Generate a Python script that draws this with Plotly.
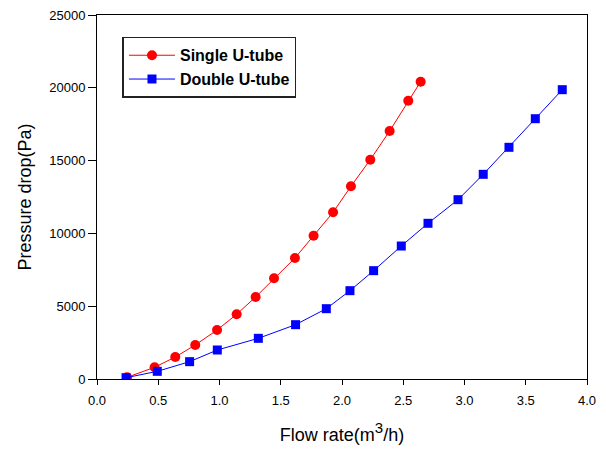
import plotly.graph_objects as go

single_x = [0.245, 0.47, 0.639, 0.802, 0.98, 1.14, 1.295, 1.445, 1.616, 1.768, 1.927, 2.073, 2.231, 2.389, 2.541, 2.642]
single_y = [117, 803, 1511, 2335, 3365, 4442, 5632, 6914, 8310, 9843, 11447, 13234, 15064, 17033, 19116, 20420]

double_x = [0.237, 0.492, 0.756, 0.982, 1.317, 1.621, 1.872, 2.065, 2.258, 2.484, 2.702, 2.947, 3.153, 3.363, 3.578, 3.798]
double_y = [89, 527, 1190, 1992, 2794, 3731, 4830, 6066, 7440, 9134, 10694, 12315, 14058, 15913, 17878, 19870]

x_ticks = [0.0, 0.5, 1.0, 1.5, 2.0, 2.5, 3.0, 3.5, 4.0]
x_tick_labels = ["0.0", "0.5", "1.0", "1.5", "2.0", "2.5", "3.0", "3.5", "4.0"]
y_ticks = [0, 5000, 10000, 15000, 20000, 25000]
y_tick_labels = ["0", "5000", "10000", "15000", "20000", "25000"]

FONT = "Arial, Liberation Sans, Helvetica, sans-serif"

fig = go.Figure()
fig.add_trace(go.Scatter(
    x=single_x, y=single_y, mode="lines+markers", name="Single U-tube",
    line=dict(color="#ff0000", width=1),
    marker=dict(symbol="circle", size=10, color="#ff0000"),
))
fig.add_trace(go.Scatter(
    x=double_x, y=double_y, mode="lines+markers", name="Double U-tube",
    line=dict(color="#0000ff", width=1),
    marker=dict(symbol="square", size=9, color="#0000ff"),
))

axis_common = dict(
    showline=True, linecolor="black", linewidth=1, mirror=True,
    ticks="outside", tickcolor="black", tickwidth=1,
    showgrid=False, zeroline=False, automargin=False,
    tickfont=dict(family=FONT, size=13, color="black"),
)

fig.update_layout(
    width=606, height=452,
    margin=dict(l=97, r=19, t=15, b=73),
    paper_bgcolor="white", plot_bgcolor="white",
    font=dict(family=FONT, color="black"),
    showlegend=True,
    legend=dict(
        x=0.052, y=0.94, xanchor="left", yanchor="top",
        bordercolor="#222222", borderwidth=1.5, bgcolor="white",
        font=dict(family=FONT, size=16, color="black", weight="bold"),
        tracegroupgap=0, itemsizing="trace", itemwidth=46,
    ),
    xaxis=dict(
        range=[0, 4.0], tickvals=x_ticks, ticktext=x_tick_labels,
        ticklen=5, ticklabelstandoff=4,
        title=dict(text="Flow rate(m<sup><span style='font-size:15px'>3</span></sup>/h)",
                   font=dict(family=FONT, size=18), standoff=21),
        **axis_common,
    ),
    yaxis=dict(
        range=[0, 25000], tickvals=y_ticks, ticktext=y_tick_labels,
        ticklen=8,
        title=dict(text="Pressure drop(Pa)", font=dict(family=FONT, size=18), standoff=12),
        **axis_common,
    ),
)

fig.write_html("out.html")
